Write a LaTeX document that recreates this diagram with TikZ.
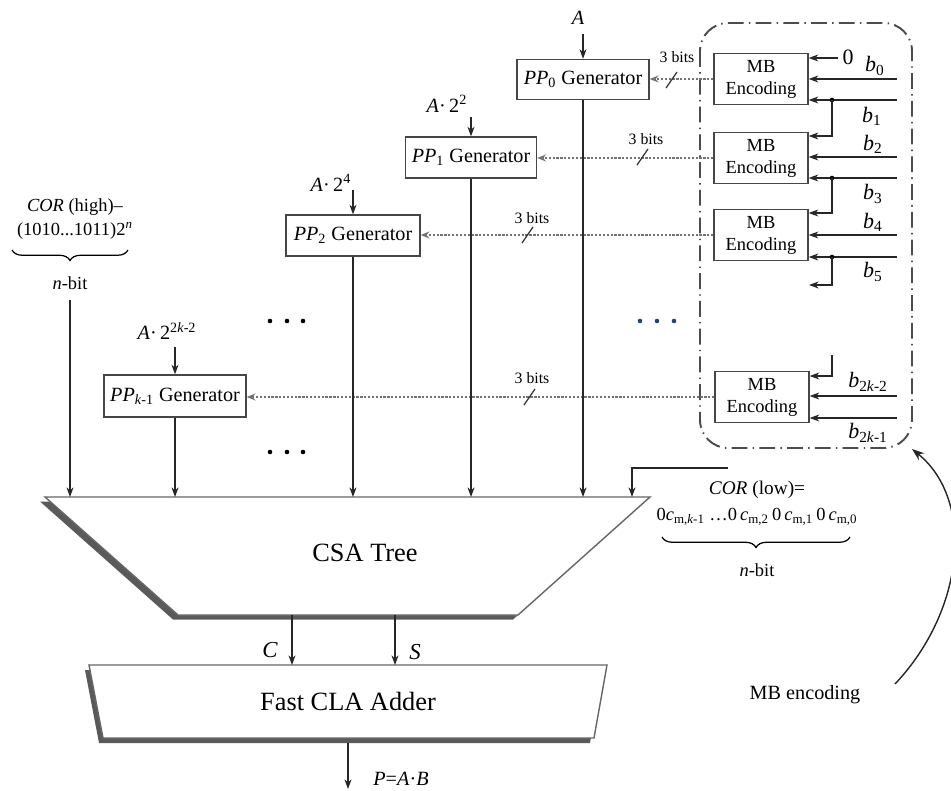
\documentclass[tikz,border=0pt]{standalone}
\usepackage{fontspec}
\setmainfont{Liberation Serif}
\usetikzlibrary{arrows.meta,decorations.pathreplacing,calc}
\definecolor{boxgray}{RGB}{70,70,70}
\definecolor{shadowgray}{RGB}{90,90,90}
\definecolor{dotblue}{RGB}{35,65,120}
\begin{document}
\begin{tikzpicture}[x=0.02cm,y=-0.02cm,
  font=\fontsize{11.5}{13}\selectfont,
  ppbox/.style={draw=boxgray,line width=0.8pt,inner sep=0pt,minimum height=0.8cm,font=\fontsize{11.5}{13}\selectfont},
  mbbox/.style={draw=boxgray,line width=0.8pt,minimum width=1.88cm,minimum height=1.03cm,inner sep=0pt,align=center,font=\fontsize{10.5}{12.5}\selectfont},
  arr/.style={-{Stealth[length=5.5pt,width=4pt]},line width=0.6pt,draw=black!85},
  dotarr/.style={dash pattern=on 1.3pt off 0.9pt,-{Stealth[length=5pt,width=4pt]},line width=0.7pt,draw=black!55},
  lbl/.style={inner sep=0pt},
  blbl/.style={inner sep=0pt,font=\fontsize{12.5}{14}\selectfont},
  smlbl/.style={inner sep=0pt,font=\fontsize{9}{10}\selectfont},
  corlbl/.style={inner sep=0pt,font=\fontsize{10.5}{12}\selectfont},
  bigtxt/.style={inner sep=0pt,font=\fontsize{15}{17}\selectfont},
  slash/.style={line width=0.7pt,draw=black!80},
]
\useasboundingbox (0,0) rectangle (951,791);

% ---------- MB encoding region ----------
\draw[draw=black!70,line width=1.1pt,rounded corners=16pt,
      dash pattern=on 9pt off 3pt on 0.8pt off 3pt] (700,23) rectangle (912,448);

\node[mbbox] (mb1) at (761,79) {MB\\Encoding};
\node[mbbox] (mb2) at (761,158) {MB\\Encoding};
\node[mbbox] (mb3) at (761,235) {MB\\Encoding};
\node[mbbox] (mb4) at (762,397) {MB\\Encoding};

% inputs box 1
\coordinate (zin) at (838,58);
\node[lbl,font=\fontsize{12.5}{14}\selectfont] (lzero) at (848,57) {0};
\draw[arr] (zin) -- (zin -| mb1.east);
\coordinate (b0) at (897,79);
\draw[arr] (b0) -- (b0 -| mb1.east);
\coordinate (b1) at (897,100);
\draw[arr] (b1) -- (b1 -| mb1.east);
\coordinate (j1) at (832,100);
\fill (j1) circle[radius=1.3pt];
\coordinate (k1) at (832,136);
\draw[arr] (j1) -- (k1) -- (k1 -| mb2.east);
\node[blbl] (lb0) at (875,66) {\textit{b}\textsubscript{0}};
\node[blbl] (lb1) at (872,116) {\textit{b}\textsubscript{1}};

% inputs box 2
\coordinate (b2) at (897,157);
\draw[arr] (b2) -- (b2 -| mb2.east);
\coordinate (b3) at (897,178);
\draw[arr] (b3) -- (b3 -| mb2.east);
\coordinate (j2) at (832,178);
\fill (j2) circle[radius=1.3pt];
\coordinate (k2) at (832,213);
\draw[arr] (j2) -- (k2) -- (k2 -| mb3.east);
\node[blbl] (lb2) at (873,144) {\textit{b}\textsubscript{2}};
\node[blbl] (lb3) at (873,194) {\textit{b}\textsubscript{3}};

% inputs box 3
\coordinate (b4) at (897,235);
\draw[arr] (b4) -- (b4 -| mb3.east);
\coordinate (b5) at (897,257);
\draw[arr] (b5) -- (b5 -| mb3.east);
\coordinate (j3) at (832,257);
\fill (j3) circle[radius=1.3pt];
\coordinate (k3) at (832,285);
\coordinate (e3) at (809,285);
\draw[arr] (j3) -- (k3) -- (e3);
\node[blbl] (lb4) at (873,222) {\textit{b}\textsubscript{4}};
\node[blbl] (lb5) at (873,272) {\textit{b}\textsubscript{5}};

% inputs box 4
\coordinate (s4) at (832,355);
\coordinate (k4) at (832,376);
\draw[arr] (s4) -- (k4) -- (k4 -| mb4.east);
\coordinate (b6) at (897,396);
\draw[arr] (b6) -- (b6 -| mb4.east);
\coordinate (b7) at (897,418);
\draw[arr] (b7) -- (b7 -| mb4.east);
\node[blbl] (lb6) at (868,382) {\textit{b}\textsubscript{2\textit{k}-2}};
\node[blbl] (lb7) at (868,433) {\textit{b}\textsubscript{2\textit{k}-1}};

% ---------- PP generators ----------
\node[ppbox,minimum width=2.64cm] (pp0) at (583,79.5) {\textit{PP}\textsubscript{0} Generator};
\node[ppbox,minimum width=2.62cm,minimum height=0.82cm] (pp1) at (471,157.5) {\textit{PP}\textsubscript{1} Generator};
\node[ppbox,minimum width=2.68cm,minimum height=0.82cm] (pp2) at (353,235.5) {\textit{PP}\textsubscript{2} Generator};
\node[ppbox,minimum width=2.84cm,minimum height=0.84cm] (ppk) at (175,396) {\textit{PP}\textsubscript{\textit{k}-1} Generator};

% operand inputs
\node[lbl] (lA0) at (578,18) {\textit{A}};
\coordinate (a0) at (583,34);
\draw[arr] (a0) -- (a0 |- pp0.north);
\node[lbl] (lA1) at (447,104) {\textit{A}·\,2\textsuperscript{2}};
\coordinate (a1) at (471,117);
\draw[arr] (a1) -- (a1 |- pp1.north);
\node[lbl] (lA2) at (331,183) {\textit{A}·\,2\textsuperscript{4}};
\coordinate (a2) at (353,190);
\draw[arr] (a2) -- (a2 |- pp2.north);
\node[lbl] (lAk) at (167,331) {\textit{A}·\,2\textsuperscript{2\textit{k}-2}};
\coordinate (ak) at (175,347);
\draw[arr] (ak) -- (ak |- ppk.north);

% dotted 3-bit connections
\draw[dotarr] (mb1.west) -- (mb1.west -| pp0.east);
\draw[dotarr] (mb2.west) -- (mb2.west -| pp1.east);
\draw[dotarr] (mb3.west) -- (mb3.west -| pp2.east);
\draw[dotarr] (mb4.west) -- (mb4.west -| ppk.east);
\draw[slash] (666,88) -- (677,72);
\node[smlbl] (t0) at (677,57) {3 bits};
\draw[slash] (637,165) -- (648,149);
\node[smlbl] (t1) at (646,139) {3 bits};
\draw[slash] (522,243) -- (533,227);
\node[smlbl] (t2) at (532,218) {3 bits};
\draw[slash] (524,405) -- (535,389);
\node[smlbl] (t3) at (532,378) {3 bits};

% dots
\foreach \x in {270,287,303} {\fill (\x,321) circle[radius=1.3pt]; \fill (\x,452) circle[radius=1.3pt];}
\foreach \x in {640,657,674} {\fill[dotblue] (\x,321) circle[radius=1.3pt];}

% ---------- COR (high) ----------
\node[corlbl] (ch1) at (75,207) {\textit{COR} (high)–};
\node[corlbl] (ch2) at (75,231) {(1010...1011)2\textsuperscript{\textit{n}}};
\draw[decorate,decoration={brace,amplitude=6pt},line width=0.7pt] (128,250) -- (12,250);
\node[corlbl] (chn) at (70,283) {\textit{n}-bit};

% ---------- CSA tree ----------
\coordinate (csa1) at (45,497);
\coordinate (csa2) at (650,497);
\coordinate (csa3) at (518,615);
\coordinate (csa4) at (178,615);
\fill[shadowgray] ($(csa1)+(-5,4.5)$) -- ($(csa2)+(-5,4.5)$) -- ($(csa3)+(-5,4.5)$) -- ($(csa4)+(-5,4.5)$) -- cycle;
\filldraw[fill=white,draw=black!60,line width=0.8pt] (csa1) -- (csa2) -- (csa3) -- (csa4) -- cycle;
\node[bigtxt] (csat) at (365,553) {CSA Tree};

% arrows into CSA
\coordinate (ch) at (70,300);
\draw[arr] (ch) -- (ch |- csa1);
\draw[arr] (ppk.south) -- (ppk.south |- csa1);
\draw[arr] (pp2.south) -- (pp2.south |- csa1);
\draw[arr] (pp1.south) -- (pp1.south |- csa1);
\draw[arr] (pp0.south) -- (pp0.south |- csa1);
\coordinate (cl) at (728,468);
\coordinate (clc) at (632,468);
\draw[arr] (cl) -- (clc) -- (clc |- csa1);

% ---------- COR (low) ----------
\node[corlbl,font=\fontsize{11}{12}\selectfont] (cl1) at (757,490) {\textit{COR} (low)=};
\node[corlbl] (cl2) at (757,517) {0\textit{c}\textsubscript{m,\textit{k}-1} …0\,\textit{c}\textsubscript{m,2}\,0\,\textit{c}\textsubscript{m,1}\,0\,\textit{c}\textsubscript{m,0}};
\draw[decorate,decoration={brace,amplitude=6pt},line width=0.7pt] (850,537) -- (662,537);
\node[corlbl] (cln) at (757,570) {\textit{n}-bit};

% ---------- Fast CLA adder ----------
\coordinate (ad1) at (89,665);
\coordinate (ad2) at (607,665);
\coordinate (ad3) at (594,738);
\coordinate (ad4) at (103,738);
\fill[shadowgray] ($(ad1)+(-4,5)$) -- ($(ad2)+(-4,5)$) -- ($(ad3)+(-4,5)$) -- ($(ad4)+(-4,5)$) -- cycle;
\filldraw[fill=white,draw=black!60,line width=0.8pt] (ad1) -- (ad2) -- (ad3) -- (ad4) -- cycle;
\node[bigtxt] (adt) at (348,701) {Fast CLA Adder};

\coordinate (cc) at (292,615);
\coordinate (ss) at (395,615);
\draw[arr] (cc) -- (cc |- ad1);
\draw[arr] (ss) -- (ss |- ad1);
\node[lbl,font=\fontsize{13}{14}\selectfont] (lC) at (270,650) {\textit{C}};
\node[lbl,font=\fontsize{13}{14}\selectfont] (lS) at (415,652) {\textit{S}};

\coordinate (po) at (348,743);
\coordinate (pe) at (348,789);
\draw[arr] (po) -- (pe);
\node[lbl] (lP) at (401,779) {\textit{P}=\textit{A}·\textit{B}};

% ---------- MB encoding annotation ----------
\node[lbl,font=\fontsize{11.5}{13}\selectfont] (mbl) at (805,695) {MB encoding};
\coordinate (mbs) at (895,684);
\coordinate (mbe) at (912,449);
\draw[-{Stealth[length=7pt,width=5pt]},line width=0.8pt,draw=black!85] (mbs) .. controls (965,610) and (975,500) .. (mbe);
\end{tikzpicture}
\end{document}
